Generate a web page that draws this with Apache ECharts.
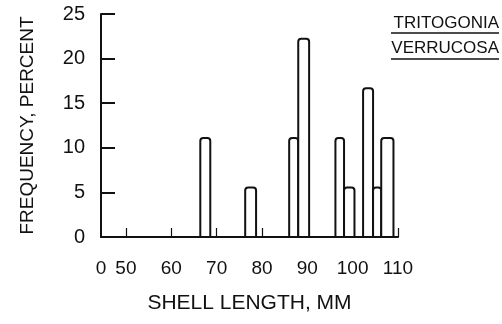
<!DOCTYPE html>
<html><head><meta charset="utf-8">
<script src="https://cdn.jsdelivr.net/npm/echarts@6/dist/echarts.min.js"></script>
<style>html,body{margin:0;padding:0;background:#fff}#c{width:502px;height:324px}</style>
</head><body><div id="c"></div>
<script>
// ---- data ----
const binStart  = [66.4, 76.3, 86.0, 88.0, 96.2, 98.1, 102.3, 104.5, 106.3];
const binEnd    = [68.6, 78.7, 88.0, 90.4, 98.1, 100.4, 104.5, 106.3, 109.0];
const frequency = [11.11, 5.56, 11.11, 22.22, 11.11, 5.56, 16.67, 5.56, 11.11];
const xTickValues  = [50, 60, 70, 80, 90, 100, 110];
const xLabelValues = [44.5, 50, 60, 70, 80, 90, 100, 110];
const xLabelTexts  = ['0', '50', '60', '70', '80', '90', '100', '110'];
const yTickValues  = [0, 5, 10, 15, 20, 25];
const titleLines   = ['TRITOGONIA', 'VERRUCOSA'];
const xName = 'SHELL LENGTH, MM';
const yName = 'FREQUENCY, PERCENT';
const X_MIN = 44.5, X_MAX = 110, Y_MIN = 0, Y_MAX = 25;

const FONT = "'Liberation Sans', Arial, sans-serif";
const INK = '#111';

const chart = echarts.init(document.getElementById('c'), null, {renderer: 'canvas'});
chart.setOption({
  animation: false,
  backgroundColor: '#fff',
  grid: {left: 101, right: 104, top: 14, bottom: 87, containLabel: false},
  xAxis: {
    type: 'value', min: X_MIN, max: X_MAX,
    axisLine: {show: true, lineStyle: {color: INK, width: 2}},
    splitLine: {show: false},
    axisTick: {show: true, inside: true, length: 9, customValues: xTickValues, lineStyle: {color: INK, width: 1.2}},
    axisLabel: {
      customValues: xLabelValues, margin: 22,
      color: INK, fontFamily: FONT, fontSize: 19,
      formatter: (v) => { const i = xLabelValues.indexOf(v); return i >= 0 ? xLabelTexts[i] : ''; }
    },
    name: xName, nameLocation: 'middle', nameGap: 56,
    nameTextStyle: {color: INK, fontFamily: FONT, fontSize: 21}
  },
  yAxis: {
    type: 'value', min: Y_MIN, max: Y_MAX, interval: 5,
    axisLine: {show: true, lineStyle: {color: INK, width: 2}},
    splitLine: {show: false},
    axisTick: {show: true, inside: true, length: 14, lineStyle: {color: INK, width: 2}},
    axisLabel: {
      margin: 16, color: INK, fontFamily: FONT, fontSize: 20,
      formatter: (v) => yTickValues.indexOf(v) >= 0 ? String(v) : ''
    },
    name: yName, nameLocation: 'middle', nameRotate: 90, nameGap: 64,
    nameTextStyle: {color: INK, fontFamily: FONT, fontSize: 19}
  },
  series: [{
    type: 'custom',
    data: binStart.map((s, i) => [s, binEnd[i], frequency[i]]),
    encode: {x: [0, 1], y: 2},
    renderItem: function (params, api) {
      const p0 = api.coord([api.value(0), api.value(2)]);
      const p1 = api.coord([api.value(1), 0]);
      return {
        type: 'rect',
        shape: {x: p0[0], y: p0[1], width: p1[0] - p0[0], height: p1[1] - p0[1], r: [3, 3, 0, 0]},
        style: {fill: '#fff', stroke: INK, lineWidth: 2}
      };
    }
  }],
  graphic: [
    {type: 'text', right: 3, top: 15, style: {text: titleLines[0], font: '17px ' + FONT, fill: INK}},
    {type: 'line', shape: {x1: 391, y1: 33, x2: 499, y2: 33}, style: {stroke: INK, lineWidth: 1.5}},
    {type: 'text', right: 3, top: 40, style: {text: titleLines[1], font: '17px ' + FONT, fill: INK}},
    {type: 'line', shape: {x1: 391, y1: 59, x2: 499, y2: 59}, style: {stroke: INK, lineWidth: 1.5}}
  ]
});
</script></body></html>
